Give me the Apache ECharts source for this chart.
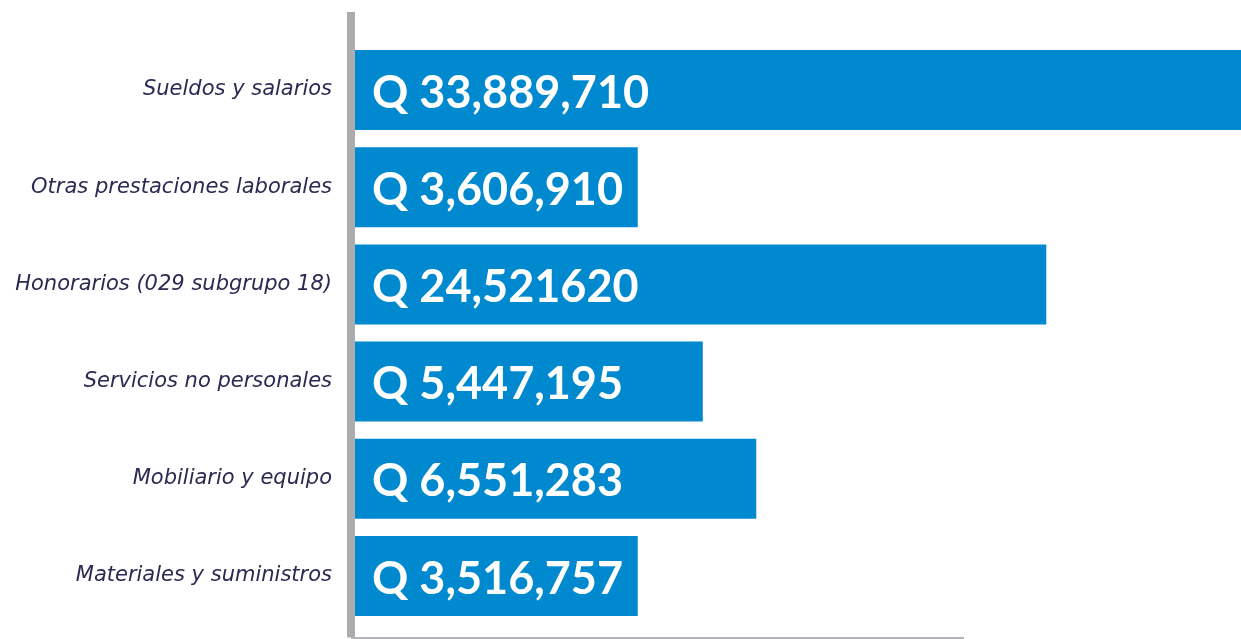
<!DOCTYPE html>
<html>
<head>
<meta charset="utf-8">
<script src="https://cdn.jsdelivr.net/npm/echarts@6/dist/echarts.min.js"></script>
<style>
  html, body { margin: 0; padding: 0; background: #ffffff; }
  #chart { width: 1241px; height: 639px; }
</style>
</head>
<body>
<div id="chart"></div>
<script>
// categories, top to bottom
const categories = [
  'Sueldos y salarios',
  'Otras prestaciones laborales',
  'Honorarios (029 subgrupo 18)',
  'Servicios no personales',
  'Mobiliario y equipo',
  'Materiales y suministros'
];
// amount labels as printed on the bars
const amountLabels = [
  'Q 33,889,710',
  'Q 3,606,910',
  'Q 24,521620',
  'Q 5,447,195',
  'Q 6,551,283',
  'Q 3,516,757'
];
// drawn bar lengths (the picture's bars are not to scale with the amounts),
// read off the picture with the bottom axis line = 100
const barLength = [150, 46.5, 113.7, 57.2, 66, 46.5];

const chart = echarts.init(document.getElementById('chart'));

chart.setOption({
  animation: false,
  backgroundColor: '#ffffff',
  grid: [
    // bars
    { left: 355, right: 278, top: 41.4, bottom: 14.4 },
    // frame lines only
    { left: 351, right: 277, top: 12, bottom: 1.5 }
  ],
  xAxis: [
    {
      gridIndex: 0, type: 'value', min: 0, max: 100,
      axisLine: { show: false }, axisTick: { show: false },
      axisLabel: { show: false }, splitLine: { show: false }
    },
    {
      gridIndex: 1, type: 'value', min: 0, max: 1,
      axisLine: { show: true, lineStyle: { color: '#b4b4b8', width: 2, cap: 'butt' } },
      axisTick: { show: false }, axisLabel: { show: false }, splitLine: { show: false }
    }
  ],
  yAxis: [
    {
      gridIndex: 0, type: 'category', data: categories, inverse: true,
      axisLine: { show: false }, axisTick: { show: false },
      axisLabel: {
        margin: 23,
        color: '#2b2a52',
        fontFamily: 'DejaVu Sans',
        fontStyle: 'italic',
        fontSize: 21
      }
    },
    {
      gridIndex: 1, type: 'value', min: 0, max: 1,
      axisLine: { show: true, lineStyle: { color: '#abacb0', width: 8, cap: 'butt' } },
      axisTick: { show: false }, axisLabel: { show: false }, splitLine: { show: false }
    }
  ],
  series: [{
    type: 'bar',
    xAxisIndex: 0,
    yAxisIndex: 0,
    data: barLength,
    barWidth: 80,
    clip: false,
    itemStyle: { color: '#0089cf' },
    label: {
      show: true,
      position: 'insideLeft',
      distance: 17,
      offset: [0, 3],
      formatter: p => amountLabels[p.dataIndex],
      color: '#ffffff',
      fontFamily: 'Lato',
      fontWeight: 'bold',
      fontSize: 45
    }
  }]
});
</script>
</body>
</html>
